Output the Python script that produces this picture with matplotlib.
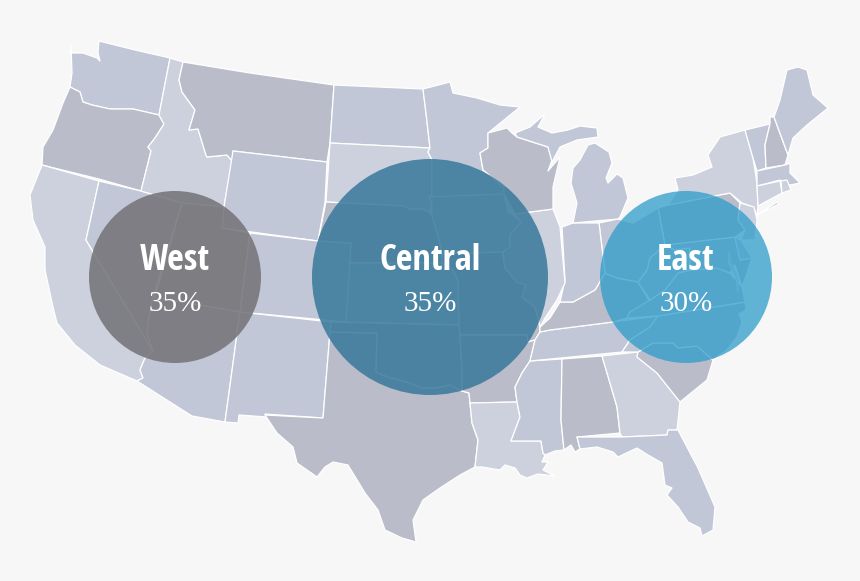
import matplotlib
matplotlib.use("Agg")
import matplotlib.pyplot as plt
from matplotlib.patches import Polygon, Circle
import logging
logging.getLogger("matplotlib.font_manager").setLevel(logging.ERROR)

regions = ["West", "Central", "East"]
shares = ["35%", "35%", "30%"]
bubble_x = [175, 430, 686]
bubble_y = [277, 277, 277]
bubble_r = [86, 118, 86]
bubble_colors = ["#747478", "#3b7a9c", "#2d9cc9"]
bubble_alpha = [0.87, 0.87, 0.75]

LIGHT = "#cdd1de"
MID = "#c1c7d6"
DARK = "#babdc9"
BG = "#f7f7f7"

# state outlines in pixels
WA = [(71,45),(70,53),(83,53),(97,58),(100,61),(98,53),(99,41),(135,50),(170,58),(159,115),(133,109),(110,109),(92,105),(83,102),(80,92),(70,87),(72,73)]
OR = [(70,87),(80,92),(83,102),(92,105),(110,109),(133,109),(159,115),(164,124),(155,138),(148,147),(151,151),(141,191),(99,179),(42,165),(43,147),(53,130),(63,103)]
CA = [(42,165),(99,181),(86,240),(153,351),(145,358),(140,370),(143,378),(137,381),(100,365),(75,345),(57,323),(53,307),(45,270),(45,247),(33,220),(30,195)]
NV = [(99,181),(141,191),(182,203),(153,297),(149,317),(147,333),(153,351),(86,240)]
ID = [(170,58),(183,62),(179,80),(182,92),(195,110),(189,130),(198,129),(206,155),(207,157),(227,155),(232,161),(224,207),(182,203),(141,191),(151,151),(148,147),(155,138),(164,124),(159,115)]
MT = [(183,62),(250,73),(334,85),(330,143),(327,162),(233,151),(232,161),(227,155),(207,157),(206,155),(198,129),(189,130),(195,110),(182,92),(179,80)]
WY = [(233,151),(327,162),(325,202),(318,241),(222,228),(224,207)]
UT = [(182,203),(224,207),(222,228),(250,233),(240,312),(155,298)]
CO = [(250,233),(318,241),(351,243),(350,263),(346,322),(240,312)]
AZ = [(153,297),(240,312),(225,422),(192,416),(137,381),(143,378),(140,370),(145,358),(153,351),(147,333),(149,317)]
NM = [(240,312),(331,322),(330,332),(323,418),(265,414),(267,417),(239,415),(238,423),(225,422)]
TX = [(330,332),(377,333),(376,372),(388,377),(407,382),(422,388),(435,388),(450,385),(462,391),(469,393),(470,403),(472,423),(478,440),(475,467),(460,475),(440,488),(423,500),(413,520),(416,542),(402,538),(385,530),(378,510),(365,493),(348,465),(333,462),(325,467),(317,477),(297,463),(293,447),(277,433),(265,415),(323,418)]
ND = [(334,85),(423,89),(426,113),(430,148),(330,143)]
SD = [(330,143),(430,148),(428,152),(432,160),(432,196),(429,197),(432,203),(429,212),(422,209),(410,209),(403,206),(326,202)]
NE = [(326,202),(403,206),(410,209),(422,209),(429,212),(432,215),(440,243),(442,263),(350,263),(351,243),(318,241)]
KS = [(350,263),(442,263),(453,270),(458,280),(459,325),(346,322)]
OK = [(331,322),(459,325),(460,335),(462,370),(462,391),(450,385),(435,388),(422,388),(407,382),(388,377),(376,372),(377,333),(330,332)]
MN = [(423,89),(450,82),(453,93),(477,98),(500,105),(520,107),(488,133),(488,148),(480,153),(483,170),(504,187),(504,194),(429,197),(432,196),(432,160),(428,152),(430,148),(426,113)]
IA = [(429,197),(504,194),(508,212),(521,222),(510,235),(510,247),(503,252),(442,254),(440,243),(432,215),(432,203)]
MO = [(442,254),(503,252),(503,257),(505,268),(517,282),(526,285),(522,297),(535,307),(538,318),(540,327),(540,332),(535,340),(528,342),(527,335),(460,335),(459,325),(458,280),(453,270),(442,263)]
AR = [(460,335),(527,335),(528,342),(535,340),(530,361),(522,373),(515,387),(517,402),(470,403),(469,393),(462,391),(462,370)]
LA = [(470,403),(517,402),(520,417),(511,441),(541,441),(543,453),(545,455),(542,462),(548,462),(543,470),(555,476),(538,474),(527,478),(520,475),(515,468),(505,465),(500,470),(482,467),(475,467),(478,440),(472,423)]
MS = [(530,361),(562,359),(561,420),(564,450),(555,451),(545,455),(543,453),(541,441),(511,441),(520,417),(517,402),(515,387),(522,373)]
AL = [(562,359),(602,356),(617,407),(620,433),(577,437),(580,449),(575,452),(571,445),(564,450),(561,420)]
GA = [(602,356),(638,352),(637,357),(657,373),(680,402),(677,430),(668,430),(667,435),(622,437),(620,433),(617,407)]
FL = [(577,437),(622,437),(667,435),(668,430),(678,430),(698,468),(715,507),(713,530),(702,536),(700,528),(688,522),(678,507),(667,495),(672,488),(665,485),(662,463),(648,455),(637,448),(618,457),(613,452),(597,447),(580,449)]
SC = [(638,352),(653,343),(673,343),(678,348),(697,346),(713,360),(707,380),(680,402),(657,373),(637,357)]
TN = [(535,340),(540,332),(550,330),(613,322),(658,316),(650,327),(630,340),(622,352),(530,361)]
NC = [(658,316),(745,302),(746,310),(739,314),(742,322),(737,337),(727,350),(713,360),(697,346),(678,348),(673,343),(653,343),(638,352),(622,352),(630,340),(650,327)]
KY = [(540,332),(540,327),(550,318),(560,302),(573,302),(595,290),(605,273),(617,278),(638,282),(650,302),(630,312),(627,318),(613,322),(550,330)]
VA = [(745,302),(658,316),(627,318),(630,312),(650,300),(665,290),(678,273),(690,270),(717,268),(730,273),(742,287)]
WV = [(638,282),(647,270),(650,258),(665,245),(675,250),(690,248),(690,270),(678,273),(665,290),(650,300)]
MD = [(665,245),(735,237),(740,260),(752,258),(747,273),(742,287),(735,265),(730,273),(717,268),(690,270),(690,248),(675,250)]
DE = [(735,237),(741,240),(752,258),(740,260)]
PA = [(658,208),(668,205),(730,193),(740,203),(738,220),(745,230),(735,237),(665,245)]
NY = [(668,205),(678,190),(675,178),(693,175),(712,167),(708,155),(720,137),(745,130),(753,158),(757,183),(758,207),(757,215),(753,207),(742,203),(730,193)]
LI = [(757,215),(777,202),(779,204),(763,212)]
NJ = [(740,203),(754,207),(757,220),(755,240),(741,240),(745,230),(738,220)]
VT = [(745,130),(770,124),(765,145),(766,168),(757,171),(753,158)]
NH = [(770,117),(774,117),(788,155),(785,165),(766,168),(765,145),(770,124)]
ME = [(774,117),(780,100),(787,70),(798,67),(807,70),(813,95),(828,108),(807,125),(793,138),(788,155)]
MA = [(757,171),(785,165),(790,163),(790,173),(800,183),(790,185),(780,180),(757,186)]
CT = [(757,186),(780,181),(782,193),(758,206)]
RI = [(781,181),(787,180),(791,190),(782,193)]
OH = [(599,223),(618,219),(633,223),(658,208),(665,245),(650,258),(647,270),(638,282),(617,278),(605,273)]
IN = [(562,227),(573,223),(599,223),(605,273),(595,290),(573,302),(560,302),(565,280)]
IL = [(515,214),(553,209),(560,227),(565,283),(557,300),(545,318),(540,327),(538,318),(535,307),(522,297),(526,285),(517,282),(505,268),(503,252),(510,247),(510,235),(521,222)]
WI = [(488,133),(507,128),(512,133),(517,137),(548,147),(552,160),(548,171),(560,157),(553,187),(553,209),(515,214),(504,194),(504,187),(483,170),(480,153),(488,148)]
MI_LOWER = [(573,168),(580,160),(588,145),(595,143),(609,152),(612,163),(606,178),(608,183),(617,174),(623,178),(628,198),(620,217),(618,219),(573,223),(577,203),(571,183)]
MI_UPPER = [(515,133),(530,127),(545,114),(538,127),(552,133),(568,130),(580,126),(597,128),(598,137),(577,140),(560,147),(552,162),(548,147),(517,137)]
CHESAPEAKE = [(728,252),(730,252),(731,262),(738,276),(739,292),(737,292),(735,276),(728,264)]

states = [
    (WA, MID), (OR, DARK), (CA, LIGHT), (NV, MID), (ID, LIGHT), (MT, DARK), (WY, MID),
    (UT, DARK), (CO, MID), (AZ, MID), (NM, MID), (TX, DARK), (ND, MID), (SD, LIGHT),
    (NE, DARK), (KS, MID), (OK, DARK), (MN, MID), (IA, MID), (MO, DARK), (AR, DARK),
    (LA, LIGHT), (MS, MID), (AL, DARK), (GA, LIGHT), (FL, MID), (SC, DARK), (TN, MID),
    (NC, MID), (KY, DARK), (VA, MID), (WV, MID), (MD, MID), (DE, LIGHT), (PA, DARK),
    (NY, LIGHT), (LI, LIGHT), (NJ, LIGHT), (VT, MID), (NH, DARK), (ME, MID), (MA, MID),
    (CT, LIGHT), (RI, LIGHT), (OH, MID), (IN, MID), (IL, LIGHT), (WI, DARK),
    (MI_LOWER, MID), (MI_UPPER, MID),
]

fig = plt.figure(figsize=(8.6, 5.81), dpi=100, facecolor=BG)
ax = fig.add_axes([0, 0, 1, 1])
ax.set_xlim(0, 860)
ax.set_ylim(581, 0)
ax.axis("off")

for outline, colour in states:
    ax.add_patch(Polygon(outline, closed=True, facecolor=colour, edgecolor="white", linewidth=0.9, joinstyle="round", zorder=1))
ax.add_patch(Polygon(CHESAPEAKE, closed=True, facecolor="#dfe2ea", edgecolor="none", zorder=1))

head_fonts = ["Open Sans Condensed", "Fira Sans Condensed", "Roboto Condensed", "Archivo Narrow", "Liberation Sans"]
for i in range(len(regions)):
    ax.add_patch(Circle((bubble_x[i], bubble_y[i]), bubble_r[i], facecolor=bubble_colors[i],
                        alpha=bubble_alpha[i], linewidth=0, zorder=2))
    ax.text(bubble_x[i], bubble_y[i] - 16, regions[i], color="white", ha="center", va="center",
            fontsize=26, fontweight="bold", family=head_fonts, zorder=3)
    ax.text(bubble_x[i], bubble_y[i] + 27, shares[i], color="white", ha="center", va="center",
            fontsize=21, family="Liberation Serif", zorder=3)

fig.savefig("out.png", dpi=100, facecolor=BG)
